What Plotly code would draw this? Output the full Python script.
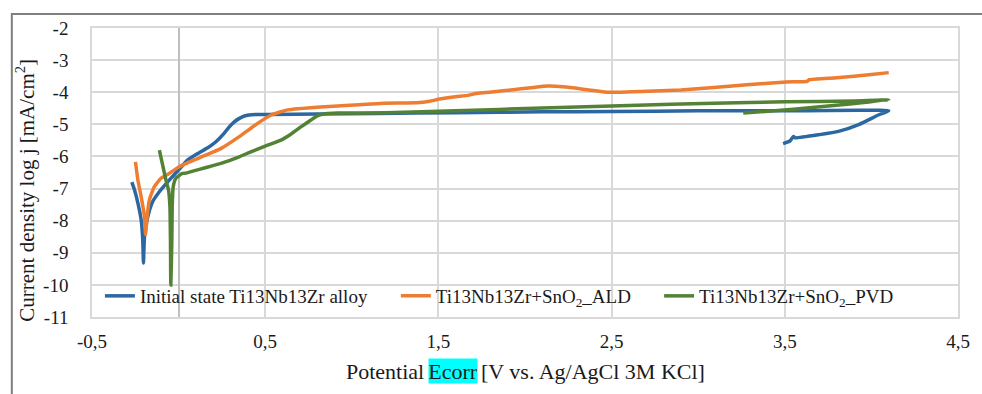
import plotly.graph_objects as go

# Polarisation curves: potential [V] vs log current density [mA/cm2]
initial_x = [-0.27, -0.254, -0.235, -0.216, -0.207, -0.203, -0.197, -0.178, -0.15, -0.111,
             -0.054, 0.003, 0.05, 0.117, 0.17, 0.214, 0.26, 0.289, 0.32, 0.346, 0.38, 0.42,
             0.52, 0.8, 1.15, 1.6, 2.1, 2.5, 3.0, 3.5, 4.1,
             4.04, 3.93, 3.81, 3.70, 3.56, 3.55, 3.53, 3.49]
initial_y = [-6.80, -7.05, -7.45, -7.98, -8.6, -9.32, -8.5, -7.88, -7.41, -7.10,
             -6.74, -6.40, -6.12, -5.89, -5.72, -5.55, -5.30, -5.10, -4.93, -4.83, -4.74, -4.70,
             -4.69, -4.68, -4.66, -4.64, -4.61, -4.60, -4.58, -4.58, -4.58,
             -4.71, -5.00, -5.22, -5.32, -5.42, -5.38, -5.52, -5.60]

ald_x = [-0.249, -0.235, -0.216, -0.197, -0.191, -0.182, -0.169, -0.14, -0.102, -0.054,
         0.003, 0.117, 0.249, 0.346, 0.443, 0.534, 0.631, 0.82, 1.014, 1.186, 1.374, 1.45,
         1.506, 1.6, 1.677, 1.717, 1.906, 2.05, 2.134, 2.2, 2.289, 2.38, 2.46, 2.55, 2.67,
         2.9, 3.09, 3.3, 3.51, 3.63, 3.64, 3.8, 4.0, 4.1]
ald_y = [-6.17, -6.74, -7.26, -7.88, -8.43, -7.88, -7.36, -6.94, -6.68, -6.53,
         -6.32, -6.05, -5.74, -5.40, -5.02, -4.71, -4.55, -4.46, -4.40, -4.34, -4.33, -4.28,
         -4.21, -4.14, -4.09, -4.04, -3.94, -3.85, -3.81, -3.82, -3.87, -3.94, -3.99, -4.00, -3.98,
         -3.93, -3.85, -3.76, -3.68, -3.66, -3.61, -3.55, -3.45, -3.39]

pvd_x = [-0.111, -0.092, -0.073, -0.058, -0.05, -0.047, -0.045, -0.039, -0.037, -0.031,
         -0.016, 0.022, 0.043, 0.134, 0.249, 0.346, 0.42, 0.5, 0.591, 0.65, 0.706, 0.76,
         0.803, 0.85, 0.917, 1.2, 1.6, 2.1, 2.6, 3.09, 3.5, 3.9, 4.1,
         3.89, 3.55, 3.26]
pvd_y = [-5.80, -6.27, -6.74, -7.05, -7.57, -8.6, -10.0, -8.6, -7.57, -6.94,
         -6.68, -6.53, -6.52, -6.38, -6.21, -6.02, -5.85, -5.68, -5.49, -5.30, -5.08, -4.88,
         -4.73, -4.67, -4.65, -4.64, -4.58, -4.49, -4.41, -4.34, -4.30, -4.27, -4.24,
         -4.36, -4.53, -4.65]

series_names = ["Initial state Ti13Nb13Zr alloy",
                "Ti13Nb13Zr+SnO<sub>2</sub>_ALD",
                "Ti13Nb13Zr+SnO<sub>2</sub>_PVD"]
series_colors = ["#2B67A1", "#ED7D31", "#548235"]

x_tickvals = [-0.5, 0.5, 1.5, 2.5, 3.5, 4.5]
x_ticktext = ["-0,5", "0,5", "1,5", "2,5", "3,5", "4,5"]
y_tickvals = [-2, -3, -4, -5, -6, -7, -8, -9, -10, -11]
y_ticktext = ["-2", "-3", "-4", "-5", "-6", "-7", "-8", "-9", "-10", "-11"]

FONT = "Liberation Serif"
TEXT = "#1A1A1A"
W, H = 982, 394
L, R, T, B = 92, 15, 28, 77
PW, PH = W - L - R, H - T - B


def px_x(p):
    return (p - L) / PW


def px_y(p):
    return (H - B - p) / PH


fig = go.Figure()
legend_ids = ["legend", "legend2", "legend3"]
for xs, ys, name, color, lg in zip([initial_x, ald_x, pvd_x], [initial_y, ald_y, pvd_y],
                                   series_names, series_colors, legend_ids):
    fig.add_trace(go.Scatter(x=xs, y=ys, mode="lines", name=name, legend=lg, showlegend=True,
                             line=dict(color=color, width=3.5, shape="spline", smoothing=0.4)))

grid = "#D9D9D9"
legend_common = dict(orientation="h", yanchor="middle", xanchor="left",
                     bgcolor="rgba(0,0,0,0)", font=dict(family=FONT, size=19, color=TEXT),
                     itemwidth=30, visible=True)
fig.update_layout(
    width=W, height=H,
    margin=dict(l=L, r=R, t=T, b=B),
    paper_bgcolor="white", plot_bgcolor="white",
    showlegend=True,
    font=dict(family=FONT, size=19, color=TEXT),
    legend=dict(x=px_x(100), y=px_y(296), **legend_common),
    legend2=dict(x=px_x(399), y=px_y(296), **legend_common),
    legend3=dict(x=px_x(665), y=px_y(296), **legend_common),
    xaxis=dict(range=[-0.5, 4.5], tickvals=x_tickvals, ticktext=x_ticktext,
               showgrid=True, gridcolor=grid, gridwidth=1.5,
               zeroline=True, zerolinecolor="#BFBFBF", zerolinewidth=1.5,
               showline=True, linecolor=grid, linewidth=1.5, mirror=True,
               ticks="", ticklabelstandoff=6,
               tickfont=dict(family=FONT, size=19, color=TEXT)),
    yaxis=dict(range=[-11, -2], tickvals=y_tickvals, ticktext=y_ticktext,
               showgrid=True, gridcolor=grid, gridwidth=1.5, zeroline=False,
               showline=True, linecolor=grid, linewidth=1.5, mirror=True,
               ticks="", ticklabelstandoff=18,
               tickfont=dict(family=FONT, size=19, color=TEXT)),
)

# Outer chart frame
fig.add_shape(type="rect", xref="paper", yref="paper",
              x0=px_x(11), x1=px_x(1000), y0=px_y(420), y1=px_y(14),
              line=dict(color="#7F7F7F", width=2), fillcolor="rgba(0,0,0,0)", layer="below")

# Axis titles
title_font = dict(family=FONT, size=22, color=TEXT)
ty = px_y(371)
fig.add_annotation(text="Potential", x=px_x(429), y=ty, xref="paper", yref="paper",
                   xanchor="right", yanchor="middle", showarrow=False, font=title_font)
fig.add_annotation(text="Ecorr", x=px_x(457), y=ty, xref="paper", yref="paper",
                   xanchor="center", yanchor="middle", showarrow=False, font=title_font,
                   bgcolor="#00FFFF", borderpad=0, width=48, height=24)
fig.add_annotation(text="[V vs. Ag/AgCl 3M KCl]", x=px_x(483), y=ty, xref="paper", yref="paper",
                   xanchor="left", yanchor="middle", showarrow=False, font=title_font)
fig.add_annotation(text="Current density log j [mA/cm<sup>2</sup>]", x=px_x(25), y=px_y(190),
                   xref="paper", yref="paper", xanchor="center", yanchor="middle",
                   textangle=-90, showarrow=False,
                   font=dict(family=FONT, size=21, color=TEXT))

fig.write_html("out.html")
